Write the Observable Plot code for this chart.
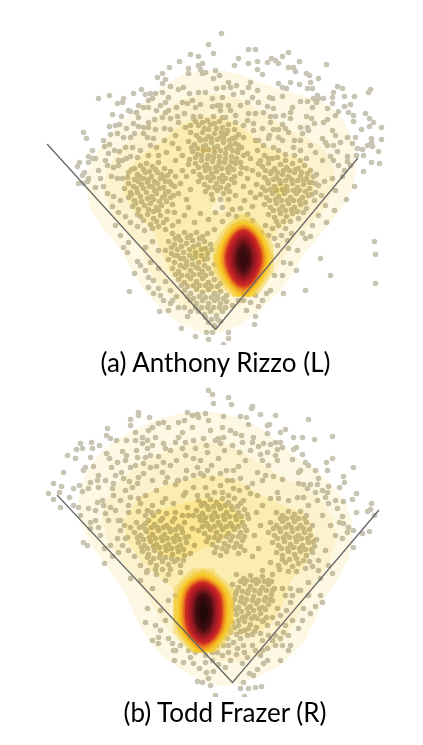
<!DOCTYPE html>
<html><head><meta charset="utf-8">
<script src="https://cdn.jsdelivr.net/npm/d3@7"></script>
<script src="https://cdn.jsdelivr.net/npm/@observablehq/plot@0.6"></script>
<style>
html,body{margin:0;padding:0;background:#fff;}
#page{width:423px;height:745px;overflow:hidden;}
.cap{font-family:Lato,"Open Sans",sans-serif;font-size:26px;color:#000;text-align:center;white-space:nowrap;}
svg{display:block;}
g[aria-label="dot"]{mix-blend-mode:multiply;}
</style></head><body><div id="page"></div>
<script>
const rizzoHits=[208,44,190,54,198,56,179,61,169,67,162,73,157,77,165,79,202,63,198,65,200,69,188,68,188,73,202,73,205,72,141,89,133,93,109,95,98,98,123,98,122,102,117,103,112,114,121,116,130,111,109,126,115,125,119,124,83,132,86,138,103,140,110,134,117,133,123,137,130,137,104,146,109,144,92,150,88,156,92,158,95,158,79,162,77,166,88,162,105,160,108,153,114,150,119,151,125,147,107,165,113,167,118,165,84,172,82,175,88,178,87,181,78,183,83,183,95,187,103,186,111,176,117,178,
145,94,150,93,155,93,162,92,170,86,162,83,178,89,183,87,189,93,198,92,205,92,168,97,165,102,152,98,148,100,138,105,143,107,148,107,160,105,168,110,165,112,182,102,187,103,195,107,176,107,177,116,184,113,193,116,162,117,154,119,148,122,138,117,133,123,138,126,143,127,148,127,155,129,164,128,170,129,143,133,153,138,147,137,175,135,185,127,190,125,170,118,178,122,
221,33,248,49,255,49,213,53,238,58,234,65,248,63,257,61,267,62,271,58,275,60,278,63,282,56,288,52,299,61,326,64,288,67,293,67,295,71,257,69,262,74,306,73,309,75,318,78,215,70,219,75,213,78,310,82,278,83,290,82,299,84,282,87,286,88,307,88,312,88,337,86,342,88,333,92,370,89,368,92,354,96,344,96,332,97,317,95,313,98,318,98,323,98,250,82,248,87,257,90,228,82,230,87,223,87,216,88,236,85,242,92,233,94,222,97,252,97,247,102,269,97,272,98,282,96,300,101,307,101,316,102,312,107,332,103,350,104,344,106,327,108,338,111,335,115,348,112,353,115,353,121,365,113,369,118,373,122,369,126,381,127,381,139,361,129,371,138,371,142,378,151,371,162,379,163,363,171,354,186,347,156,347,161,337,151,357,148,362,149,367,145,372,146,352,143,355,137,347,137,340,142,333,145,327,145,322,138,325,142,332,130,335,135,308,130,302,133,307,127,300,127,314,123,306,116,311,118,327,119,323,122,292,107,290,112,283,115,290,118,275,116,270,116,263,112,255,113,248,113,258,102,267,106,273,108,282,124,273,129,278,129,288,132,269,135,268,138,282,140,300,140,310,145,293,147,285,154,273,147,263,145,257,150,253,130,253,123,243,125,235,122,235,115,230,110,222,117,217,105,220,105,212,106,243,137,223,138,230,145,238,145,247,153,240,162,250,158,260,160,268,158,277,157,
123,247,127,252,137,261,140,265,145,270,134,273,129,291,148,277,153,280,148,287,158,288,153,293,160,295,163,300,170,303,159,311,168,310,187,316,181,328,195,336,206,332,212,332,208,339,223,344,228,332,228,338,255,316,254,324,266,293,255,295,374,241,375,254,375,283,334,210,346,199,326,222,305,238,297,250,290,263,282,275,305,290,283,293,310,236,330,275,320,258,
128,172,134,168,140,165,146,163,152,166,158,162,164,168,170,171,175,176,122,178,128,183,134,179,139,176,145,172,151,176,157,172,163,177,169,181,174,186,180,183,124,188,130,192,136,188,141,184,147,182,152,186,157,183,163,187,168,191,173,195,178,193,128,197,134,200,140,196,146,192,151,196,156,193,162,197,166,201,172,204,132,206,138,209,144,205,150,203,156,207,161,205,167,211,174,212,140,216,147,214,153,218,160,215,166,219,120,200,113,196,107,193,112,206,118,212,125,216,130,222,137,226,144,230,152,228,158,226,165,229,172,225,178,221,184,215,188,207,186,199,190,189,186,176,182,170,188,164,
193,118,200,116,207,120,213,116,219,121,225,117,198,125,204,128,210,124,216,128,222,127,228,124,234,129,190,132,196,135,202,132,208,136,214,133,220,137,226,133,232,138,238,134,188,141,194,144,200,140,205,145,211,142,217,146,223,142,229,146,235,143,241,147,192,151,197,154,203,150,208,155,214,152,219,156,225,153,231,156,237,152,243,155,189,159,195,163,201,160,206,164,212,161,218,165,224,162,229,166,235,163,241,167,193,171,199,174,205,170,211,173,216,171,222,175,228,172,234,176,240,173,198,181,204,184,210,180,216,183,222,181,228,185,234,182,205,191,211,194,217,190,223,193,229,191,235,195,
262,166,268,163,274,168,280,164,286,167,292,163,298,168,304,165,310,170,316,174,258,174,264,177,270,173,276,177,282,174,288,176,294,172,300,176,306,178,312,182,318,185,324,181,256,184,262,187,268,183,274,186,280,183,286,186,292,183,297,187,303,184,309,188,315,192,321,195,260,194,266,197,272,193,278,196,284,193,290,197,296,193,302,197,308,195,314,200,264,204,270,207,276,203,282,206,288,203,294,207,300,204,306,208,268,214,274,217,280,213,286,216,292,213,298,218,247,178,243,186,250,192,244,200,240,208,247,214,252,206,255,197,236,216,232,209,240,224,233,226,265,225,272,228,278,225,285,228,291,233,
172,233,178,236,184,232,190,235,196,232,202,236,207,233,168,241,174,244,180,240,186,243,192,240,198,244,204,241,210,244,165,250,171,253,177,249,183,252,189,249,195,252,201,249,207,253,168,259,174,262,180,258,186,261,192,258,198,262,204,259,172,268,178,271,184,267,190,270,196,267,202,271,208,268,214,264,178,279,184,282,190,278,196,281,202,278,208,282,214,279,220,283,184,290,190,293,196,289,202,292,208,289,214,293,220,291,226,295,190,300,196,303,202,300,208,303,214,300,220,303,226,301,198,311,204,314,210,311,216,315,222,311,208,322,214,325,220,321,217,296,232,305,238,300,172,300,178,307];
const rizzoClumps=[131,169,137,174,143,169,149,171,155,169,161,174,167,175,127,177,133,186,138,181,143,178,148,179,154,181,160,178,165,181,171,184,131,194,137,192,143,188,149,186,154,190,159,188,165,192,170,197,135,203,141,201,147,198,153,199,159,201,164,196,148,209,153,211,158,210,137,214,143,220,150,224,156,221,163,222,
195,121,202,122,208,129,214,123,221,132,227,130,199,138,205,139,211,138,217,139,223,135,229,140,235,137,191,147,197,148,203,146,208,149,214,147,220,150,226,148,232,150,238,149,195,157,201,155,207,158,213,157,219,161,225,158,231,161,236,158,198,167,204,166,209,168,215,167,221,168,227,168,233,169,201,177,207,177,213,177,219,178,225,178,231,179,208,187,214,187,220,187,226,188,212,199,220,199,228,199,
265,170,271,171,277,172,283,170,289,170,295,169,301,172,307,173,313,176,267,180,273,179,279,180,285,180,291,179,297,180,303,180,309,182,315,183,265,190,270,189,276,190,282,189,287,190,293,190,299,190,305,191,311,194,269,200,275,199,281,200,287,200,293,200,299,200,305,202,273,210,279,209,285,210,291,209,297,211,303,212,276,221,283,221,290,221,261,232,268,235,274,238,281,235,287,240,
175,238,181,246,187,237,193,246,199,238,205,248,171,247,177,255,183,258,189,255,195,256,201,255,207,258,211,249,174,255,180,265,186,265,192,264,198,268,204,265,175,274,181,275,187,275,193,274,199,274,205,275,211,273,181,285,187,286,193,285,199,285,205,285,211,286,217,286,187,296,193,298,199,296,205,297,211,297,217,298,223,298,195,307,201,307,207,307,213,307,219,307,225,307,205,317,211,319,217,319,
150,145,156,147,164,140,172,143,178,148,182,155,166,152,158,155,148,155,140,150,132,147,126,158,118,160,137,157,175,160,192,100,200,104,212,98,220,110,228,105,240,105,247,120,255,140,262,128,270,122,278,137,285,128,294,140,300,150,306,158,315,152,322,160,330,156,338,165,342,176,332,178,335,190,325,205,318,215,312,225,302,233,258,140,246,168,252,170,258,163,264,155,272,158,278,150,285,160,294,155,300,160,252,220,247,226,254,232,214,229,222,221,228,214,222,207,215,212,208,219,200,213,194,222,128,110,136,112,156,110,134,133,126,128,122,160,130,156,98,170,100,178,120,235,128,242,115,225,152,241,145,247,158,250,150,262,158,268,165,281,170,290,176,296,184,307,190,311,243,300,250,302,246,310,296,270,288,248,277,245,283,262,270,290,274,275,262,300,258,306,333,160,344,170,350,165,356,155,363,155];
const frazerHits=[208,390,138,412,138,415,149,417,130,419,130,425,107,428,106,435,110,438,116,440,80,443,91,442,82,448,76,449,92,448,99,445,67,455,75,458,63,472,53,483,61,486,59,492,48,493,53,499,60,507,69,497,73,488,79,485,82,491,88,488,90,482,98,475,97,480,83,470,93,466,90,457,85,467,98,487,112,488,111,467,117,462,106,453,109,458,122,451,121,472,130,467,123,478,129,481,138,477,137,483,113,483,78,507,73,505,88,508,97,502,102,500,113,495,125,490,132,487,138,498,83,542,87,545,80,515,90,522,95,520,90,528,98,527,110,507,105,513,108,520,120,520,128,512,
163,422,158,423,168,427,152,427,178,422,184,420,187,412,192,415,197,414,205,413,198,417,192,427,208,420,135,432,142,437,148,430,155,437,126,440,147,440,135,440,142,443,147,448,152,445,163,443,165,448,175,442,182,432,178,437,193,440,203,438,185,442,195,448,185,455,193,458,200,460,207,452,137,457,145,457,150,455,143,463,150,467,156,466,163,462,170,465,176,460,162,472,167,477,177,480,185,478,197,467,200,473,207,470,193,487,185,492,175,484,165,482,205,487,197,495,183,495,165,498,152,505,145,495,162,502,173,503,187,507,202,503,207,495,130,497,138,511,153,515,162,518,175,512,193,515,203,520,145,523,130,527,120,530,127,537,117,538,
212,394,228,397,213,403,231,404,252,406,251,408,260,414,275,415,223,416,240,416,246,417,248,424,308,419,269,424,267,425,285,429,280,432,267,433,222,427,230,430,235,433,241,435,332,436,302,437,293,437,314,439,253,437,252,442,242,442,223,437,218,438,220,443,263,443,270,444,275,442,280,442,282,447,277,449,296,447,293,449,302,454,260,454,267,452,275,455,277,460,292,459,305,462,308,465,326,462,332,458,327,470,353,467,343,476,344,482,339,487,356,493,352,499,343,501,371,503,367,511,370,509,356,512,374,515,369,531,362,533,342,516,353,530,348,527,343,523,339,522,342,538,347,532,353,547,262,460,268,465,257,472,265,475,273,476,282,479,298,472,298,483,303,484,310,484,318,478,317,484,307,488,315,492,328,486,327,492,325,497,337,508,328,503,317,500,308,505,297,497,303,497,288,500,278,498,270,498,277,492,262,480,252,483,247,487,250,493,240,478,233,470,238,466,227,480,220,473,233,488,228,495,243,500,257,495,
104,563,130,578,140,580,152,588,165,580,147,570,147,608,145,622,152,640,158,637,158,643,168,638,172,643,180,645,173,650,174,660,183,662,190,657,193,663,206,672,197,681,202,682,208,678,210,685,215,695,243,682,240,688,248,688,255,687,261,686,244,696,257,669,249,673,253,675,263,663,267,660,280,660,290,645,288,650,282,645,275,645,267,648,260,655,272,640,280,638,288,635,283,632,298,628,302,620,310,613,320,595,322,602,315,606,303,608,290,602,292,595,300,590,308,582,320,578,332,573,290,588,282,588,277,608,272,617,277,623,267,625,260,633,252,645,247,657,242,663,223,645,228,652,217,652,230,660,225,667,233,642,240,638,247,635,237,648,243,645,227,638,222,635,
136,522,142,526,148,520,154,524,160,520,166,525,172,521,178,526,184,522,134,532,140,535,146,531,152,534,158,530,164,534,170,531,176,535,182,532,188,536,138,542,144,545,150,541,156,544,162,540,168,544,174,541,180,545,186,542,142,551,148,554,154,550,160,553,166,550,172,554,178,551,184,555,150,562,156,565,162,561,168,564,174,561,180,565,122,545,128,550,125,538,118,552,112,556,104,548,134,556,140,565,146,572,156,574,168,574,180,572,
198,500,204,503,210,499,216,502,222,498,228,502,234,498,240,503,196,510,202,513,208,509,214,512,220,508,226,512,232,509,238,512,244,509,200,520,206,523,212,519,218,522,224,519,230,523,236,519,242,522,248,518,198,530,204,533,210,529,216,532,222,529,228,533,234,529,240,532,246,530,206,541,212,544,218,540,224,543,230,540,236,543,242,540,214,552,220,555,226,551,238,553,244,550,190,553,194,545,192,528,188,515,
276,512,282,515,288,511,294,514,300,511,306,515,270,522,276,525,282,521,288,524,294,521,300,525,306,522,312,525,268,532,274,535,280,531,286,534,292,531,298,535,304,532,310,535,316,539,272,542,278,545,284,541,290,544,296,541,302,545,308,542,314,546,276,552,282,555,288,551,294,554,300,551,306,555,312,552,270,562,278,565,285,562,292,566,298,563,305,568,312,566,262,505,256,512,260,525,254,535,258,548,252,556,262,570,272,574,
236,574,243,578,250,575,256,579,262,576,268,580,232,584,238,587,244,583,250,586,256,583,262,587,268,584,274,588,235,594,241,597,247,593,253,596,259,593,265,597,271,594,232,604,238,607,244,603,250,606,256,603,262,607,268,604,236,614,242,617,248,613,254,616,260,613,266,617,232,622,238,625,244,621,250,624,256,627,262,621,226,622,230,632,236,634,244,630,252,634,222,615,212,652,205,655,212,660,218,664];
const frazerClumps=[139,527,145,529,151,527,157,527,163,527,169,528,175,529,181,528,137,537,143,539,149,537,155,538,161,537,167,538,173,538,179,539,185,537,141,547,147,548,153,546,159,547,165,546,171,548,177,547,183,549,147,557,153,558,159,557,165,557,171,558,177,559,183,560,155,569,162,569,170,569,145,515,151,512,158,511,166,513,174,518,182,515,
201,505,207,506,213,506,219,505,225,505,231,506,237,506,199,516,205,517,211,516,217,516,223,515,229,516,235,516,241,516,247,514,202,526,208,526,214,526,220,525,226,526,232,526,238,526,244,526,208,537,214,537,220,536,226,536,232,536,238,536,244,536,216,547,222,548,228,546,234,547,240,546,
280,518,286,518,292,517,298,518,304,518,273,528,279,528,285,527,291,527,297,528,303,528,309,529,277,538,283,537,289,537,295,537,301,538,307,538,313,541,281,548,287,548,293,547,299,548,305,549,311,549,282,559,289,559,296,558,303,560,309,561,279,569,288,571,296,571,
240,581,246,580,252,580,258,581,264,581,271,581,236,591,242,591,248,590,254,590,260,590,266,590,272,590,234,599,240,601,246,599,252,600,258,600,264,600,270,599,235,609,241,611,247,608,253,610,259,608,265,609,238,620,245,616,251,618,257,618,263,620,228,628,234,627,240,631,248,628,254,631,228,645,236,654,244,652,222,655,216,645,
178,480,186,470,193,475,211,465,218,458,224,450,232,445,239,452,245,460,250,450,258,446,203,475,212,478,220,485,226,470,214,492,222,492,232,480,239,490,120,500,128,505,140,503,147,510,115,510,103,505,156,490,152,480,143,473,135,465,126,455,136,450,158,456,170,450,182,448,210,430,215,440,206,445,115,475,105,480,125,460,95,510,100,535,110,545,118,520,124,525,300,470,315,470,322,490,335,500,322,515,330,525,335,535,325,550,318,560,328,565,318,570,298,590,308,595,285,595,272,600,280,615,286,610,292,620,285,625,275,635,262,640,255,650,262,650,268,635,175,595,168,600,160,610,165,620,155,625,160,630,175,650,188,650,195,652,205,662,199,668,213,671];
const rizzoSoftRows=[
"000000000000000000","000000111100000000","000001111111111000","000011222211111000",
"000112344321111100","001122466422111100","001255233235521100","002366222246631000",
"001233211234310000","000122442332100000","000012662542000000","000012552531000000",
"000001233310000000","000000122100000000","000000011000000000","000000000000000000"];
const frazerSoftRows=[
"000000000000000000","000011111110000000","001111222111000000","011122122211100000",
"011112222221110000","011233345422311000","012345556533431000","001257534425531000",
"000124421124421000","000012333332210000","000012332454100000","000012222453100000",
"000001322321100000","000000112211000000","000000011100000000","000000000000000000"];
const rizzoHotRows=[
"00000000000","00001110000","00013531000","00135753100","00256865200",
"01356865310","02467976420","02567976520","02567976520","02467976420",
"01356965310","00256865200","00135653100","00013431000","00001210000"];
const frazerHotRows=[
"00000000000","00012321000","00134431000","01356865310","02467876420",
"02467976420","02568986520","02568986520","02568986520","02468986420",
"02467976420","01356865310","00246864200","00013531000","00001210000"];
const rizzoFoulLine=[[47,144],[215,329],[357,158]];
const frazerFoulLine=[[57,495],[232,682],[378,510]];
const levelDomain=[0.75,1.5,2.5,3.5,4.5,5.5,6.5,10.5,11.5,12.5,13.5,14.5,15.5,16.5,17.5,18.5,19];
const levelRange=["#fdf8e3","#fcf3ce","#fbedb0","#fae78f","#f8e06e","#f5d850","#f2cf3a",
 "rgba(240,205,70,0.5)","#f8c824","#ee8a1e","#cf2f22","#b81c26","#8e1820","#4a0e12","#220808","#0a0202","#050101"];
const toPoints=f=>d3.range(0,f.length-1,2).map(i=>({x:f[i],y:f[i+1]}));
const digits=rows=>rows.flatMap(r=>[...r].map(Number));
const hotDigits=rows=>digits(rows).map(d=>d+10);
function field({hits,soft,hot,foul,ySpan,softBox,hotBox}){
  const softT=[0.75,1.5,2.5,3.5,4.5,5.5];
  const hotT=d3.range(10.5,19.01,0.5);
  return Plot.plot({
    width:423,height:ySpan[1]-ySpan[0],margin:0,
    x:{domain:[0,423],axis:null},
    y:{domain:ySpan,reverse:true,axis:null},
    color:{type:"linear",domain:levelDomain,range:levelRange,clamp:true},
    marks:[
      Plot.contour(digits(soft),{width:18,height:16,x1:softBox[0],x2:softBox[1],y1:softBox[2],y2:softBox[3],fill:Plot.identity,thresholds:softT,blur:0.4}),
      Plot.dot(toPoints(hits),{x:"x",y:"y",r:2.8,fill:"#c9c5b5",stroke:"none"}),
      Plot.contour(hotDigits(hot),{width:11,height:15,x1:hotBox[0],x2:hotBox[1],y1:hotBox[2],y2:hotBox[3],fill:Plot.identity,thresholds:hotT,blur:0.4}),
      Plot.line(foul,{x:d=>d[0],y:d=>d[1],stroke:"#666",strokeWidth:1.3})
    ]
  });
}
const page=document.getElementById("page");
function caption(text,w,h){const d=document.createElement("div");d.className="cap";d.textContent=text;d.style.width=w+"px";d.style.height=h+"px";d.style.lineHeight=h+"px";return d;}
page.append(field({hits:rizzoHits.concat(rizzoClumps),soft:rizzoSoftRows,hot:rizzoHotRows,foul:rizzoFoulLine,ySpan:[0,345],softBox:[50,410,40,360],hotBox:[213,273,214,296]}));
page.append(caption("(a) Anthony Rizzo (L)",431,35));
page.append(field({hits:frazerHits.concat(frazerClumps),soft:frazerSoftRows,hot:frazerHotRows,foul:frazerFoulLine,ySpan:[380,697],softBox:[50,410,390,710],hotBox:[173,233,568,652]}));
page.append(caption("(b) Todd Frazer (R)",450,30));
</script></body></html>
